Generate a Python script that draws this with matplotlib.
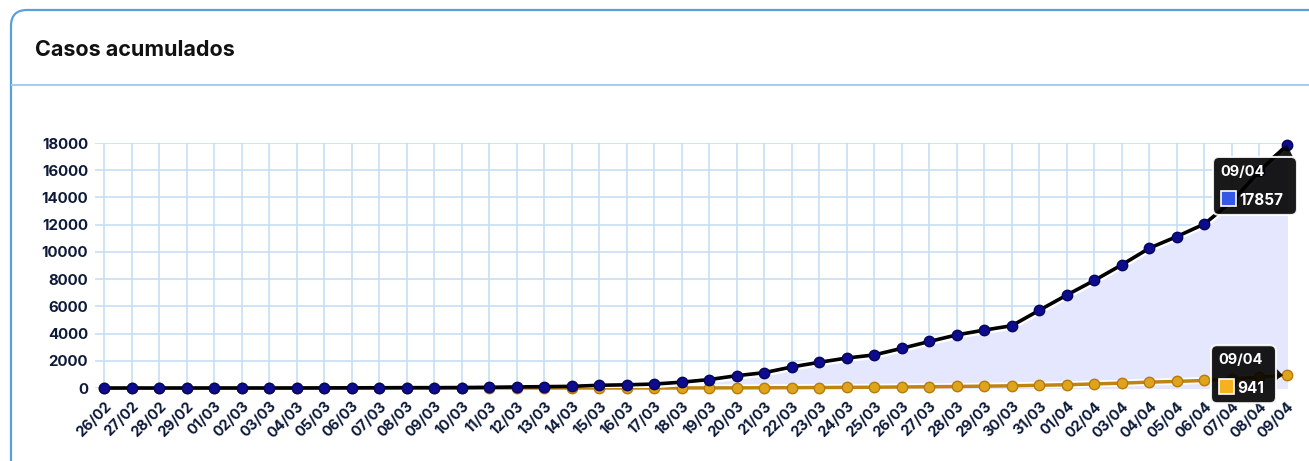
import matplotlib.pyplot as plt
import matplotlib.transforms as mtransforms
from matplotlib.patches import FancyBboxPatch, Polygon, Rectangle

plt.rcParams['font.family'] = ['Inter', 'DejaVu Sans']

# datas (26/02 -> 09/04)
dates = ["26/02", "27/02", "28/02", "29/02"] + \
    [f"{d:02d}/03" for d in range(1, 32)] + [f"{d:02d}/04" for d in range(1, 10)]
casos = [1, 1, 1, 2, 2, 2, 2, 3, 8, 13, 19, 25, 25, 34, 52, 77, 98, 121, 200, 234,
         291, 428, 621, 904, 1128, 1546, 1891, 2201, 2433, 2915, 3417, 3904, 4256,
         4579, 5717, 6836, 7910, 9056, 10278, 11130, 12056, 13717, 15927, 17857]
obitos = [0] * 20 + [1, 4, 7, 11, 18, 25, 34, 46, 57, 77, 92, 111, 136, 159, 201,
                     240, 299, 359, 431, 486, 553, 667, 800, 941]
yticks = list(range(0, 18001, 2000))

W, H = 1309, 461
fig = plt.figure(figsize=(W / 100, H / 100), dpi=100)

# cartão de fundo (em pixels)
px = mtransforms.IdentityTransform()
card = FancyBboxPatch((11, -40), W + 40, H - 10 + 40, transform=px,
                      boxstyle="round,pad=0,rounding_size=16",
                      facecolor="white", edgecolor="#5a9fe0", linewidth=1.6, zorder=-5)
fig.patches.append(card)
fig.add_artist(plt.Line2D([12 / W, 1], [1 - 85 / H] * 2, transform=fig.transFigure,
                          color="#a9cdf0", linewidth=1.5))
fig.text(35 / W, 1 - 56 / H, "Casos acumulados", fontsize=15.5, fontweight="bold",
         color="#111111", va="baseline")

ax = fig.add_axes([95 / W, 1 - 388 / H, (1287 - 95) / W, (388 - 143) / H])
x = list(range(len(dates)))
ax.set_xlim(-0.33, len(dates) - 1)
ax.set_ylim(0, 18000)
ax.set_facecolor("none")
for s in ax.spines.values():
    s.set_visible(False)
ax.set_xticks(x)
ax.set_xticklabels(dates, rotation=45, ha="right", rotation_mode="anchor",
                   fontsize=10.5, fontweight="bold", color="#0d1a3a")
ax.set_yticks(yticks)
ax.set_yticklabels([str(v) for v in yticks], fontsize=10.8, fontweight="bold",
                   color="#0d1a3a")
ax.tick_params(length=0, pad=5)
ax.tick_params(axis="x", pad=8)
ax.grid(True, color="#c4dcf3", linewidth=1.1)
ax.set_axisbelow(True)

ax.fill_between(x, casos, 0, color="#e4e7fd", zorder=2)
ax.plot(x, obitos, color="white", linewidth=5, zorder=3)
ax.plot(x, obitos, color="#c08412", linewidth=2.5, marker="o", markersize=7.5,
        markerfacecolor="#dea41c", markeredgecolor="#b87a08", zorder=4, clip_on=False)
ax.plot(x, casos, color="white", linewidth=6, zorder=5)
ax.plot(x, casos, color="black", linewidth=2.6, marker="o", markersize=7.5,
        markerfacecolor="#0c0c8c", markeredgecolor="#050560", zorder=6, clip_on=False)


def tooltip(xd, yd, x0, y0, w, h, ptr, valor, cor):
    tr = mtransforms.Affine2D() + mtransforms.ScaledTranslation(xd, yd, ax.transData)
    ax.add_patch(Polygon(ptr, closed=True, transform=tr, facecolor="black", alpha=0.9,
                         edgecolor="none", zorder=10, clip_on=False))
    ax.add_patch(FancyBboxPatch((x0, y0), w, h, transform=tr,
                                boxstyle="round,pad=0,rounding_size=6",
                                facecolor="black", alpha=0.9, edgecolor="white",
                                linewidth=1.5, zorder=10, clip_on=False))
    ax.text(x0 + 7, y0 + h - 19, dates[-1], transform=tr, color="white", fontsize=10.5,
            fontweight="bold", zorder=11, va="baseline")
    ax.add_patch(Rectangle((x0 + 8, y0 + 9), 15, 15, transform=tr, facecolor=cor,
                           edgecolor="white", linewidth=1.2, zorder=11, clip_on=False))
    ax.text(x0 + 26, y0 + 10, str(valor), transform=tr, color="white", fontsize=11,
            fontweight="bold", zorder=11, va="baseline")


tooltip(x[-1], casos[-1], -74, -70, 84, 58,
        [(6, -12), (0, 0), (-16, -12)], casos[-1], "#3558e6")
tooltip(x[-1], obitos[-1], -76, -28, 65, 58,
        [(-12, -6), (-4, 0), (-12, 8)], obitos[-1], "#f5b21c")

fig.savefig("out.png", dpi=100)
